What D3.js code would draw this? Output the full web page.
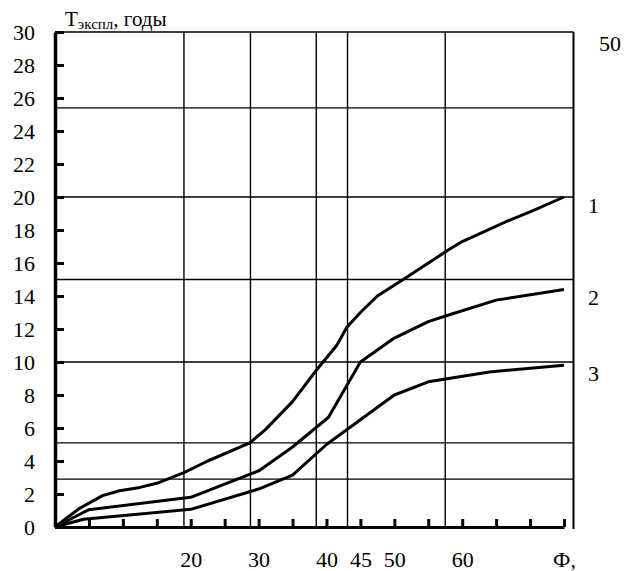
<!DOCTYPE html>
<html>
<head>
<meta charset="utf-8">
<script src="https://cdn.jsdelivr.net/npm/d3@7"></script>
<style>
  body { margin: 0; background: #fff; }
</style>
</head>
<body>
<div id="chart"></div>
<script>
// data (x = Ф, y = Тэкспл, годы)
var curve1 = [[0,0],[3.5,1.1],[7,1.9],[9.5,2.2],[12.5,2.4],[15,2.65],[19,3.3],[22.5,4],[28.7,5.1],[31,5.9],
              [35,7.6],[38.5,9.5],[41.5,11],[43,12.1],[45,13],[47.5,14],[51.3,15],[58,16.8],[60,17.3],
              [67,18.6],[70,19.1],[75,20]];
var curve2 = [[0,0],[5,1.05],[20,1.8],[30,3.4],[35,4.85],[40.3,6.65],[45,10],[50,11.45],[55,12.45],
              [58,12.85],[65,13.75],[75,14.4]];
var curve3 = [[0,0],[4.2,0.47],[20,1.07],[30,2.3],[35,3.15],[40,5],[45,6.5],[50,8],[55,8.8],
              [64,9.4],[75,9.8]];
var curveNames = ["1", "2", "3"];

var yTicks = d3.range(0, 31, 2);
var xTicks = d3.range(5, 80, 5);
var xLabels = {20: "20", 30: "30", 40: "40", 45: "45", 50: "50", 60: "60", 75: "Ф,"};
var hGrid = [2.9, 5.1, 10, 15, 20, 25.4, 30];
var vGrid = [19, 28.8, 38.5, 43.1, 57.5];
var xFrameEnd = 76.4;

var width = 624, height = 571;
var serif = "Liberation Serif, DejaVu Serif, serif";

var svg = d3.select("#chart")
  .append("svg")
    .attr("width", width)
    .attr("height", height);

var x = d3.scaleLinear().domain([0, 75]).range([55, 564]);
var y = d3.scaleLinear().domain([0, 30]).range([527, 32]);

// horizontal grid lines (incl. top frame)
svg.append("g").selectAll("line")
  .data(hGrid)
  .enter().append("line")
    .attr("x1", x(0)).attr("x2", x(xFrameEnd))
    .attr("y1", function(d) { return y(d); })
    .attr("y2", function(d) { return y(d); })
    .attr("stroke", "#000").attr("stroke-width", 1.4);

// vertical grid lines
svg.append("g").selectAll("line")
  .data(vGrid)
  .enter().append("line")
    .attr("x1", function(d) { return x(d); })
    .attr("x2", function(d) { return x(d); })
    .attr("y1", y(30)).attr("y2", y(0) + 2)
    .attr("stroke", "#000").attr("stroke-width", 1.4);

// right frame
svg.append("line")
  .attr("x1", x(xFrameEnd)).attr("x2", x(xFrameEnd))
  .attr("y1", y(30)).attr("y2", y(0) + 2)
  .attr("stroke", "#000").attr("stroke-width", 2);

// left axis
var yAxis = svg.append("g")
  .attr("transform", "translate(" + x(0) + ",0)")
  .call(d3.axisLeft(y).tickValues(yTicks).tickSize(-9).tickSizeOuter(0).tickPadding(20));
yAxis.attr("font-family", serif);
yAxis.select(".domain").attr("stroke-width", 3.5);
yAxis.selectAll(".tick line").attr("stroke-width", 3);
yAxis.selectAll("text").attr("font-family", serif).attr("font-size", 22).attr("fill", "#000");

// bottom axis
var xAxis = svg.append("g")
  .attr("transform", "translate(0," + y(0) + ")")
  .call(d3.axisBottom(x).tickValues(xTicks).tickSize(-8).tickSizeOuter(0).tickPadding(24)
    .tickFormat(function(d) { return xLabels[d] || ""; }));
xAxis.attr("font-family", serif);
xAxis.select(".domain").attr("stroke-width", 3);
xAxis.selectAll(".tick line").attr("stroke-width", 3);
xAxis.selectAll("text").attr("font-family", serif).attr("font-size", 22).attr("fill", "#000");

// curves
var line = d3.line()
  .x(function(d) { return x(d[0]); })
  .y(function(d) { return y(d[1]); });

svg.append("g").selectAll("path")
  .data([curve1, curve2, curve3])
  .enter().append("path")
    .attr("d", line)
    .attr("fill", "none")
    .attr("stroke", "#000")
    .attr("stroke-width", 3)
    .attr("stroke-linejoin", "round");

// curve numbers on the right
svg.append("g").selectAll("text")
  .data([curve1, curve2, curve3])
  .enter().append("text")
    .attr("x", x(xFrameEnd) + 20)
    .attr("y", function(d) { return y(d[d.length - 1][1]) + 8; })
    .attr("dy", "0.35em")
    .attr("font-family", serif)
    .attr("font-size", 22)
    .attr("text-anchor", "middle")
    .text(function(d, i) { return curveNames[i]; });

// "50" top right
svg.append("text")
  .attr("x", 610).attr("y", y(30) + 11)
  .attr("dy", "0.35em")
  .attr("text-anchor", "middle")
  .attr("font-family", serif)
  .attr("font-size", 22)
  .text("50");

// y title
var title = svg.append("text")
  .attr("x", 65).attr("y", 26)
  .attr("font-family", serif)
  .attr("font-size", 21);
title.append("tspan").text("Т");
title.append("tspan").attr("dy", 3).attr("font-size", 15).text("экспл");
title.append("tspan").attr("dy", -3).text(", годы");
</script>
</body>
</html>
